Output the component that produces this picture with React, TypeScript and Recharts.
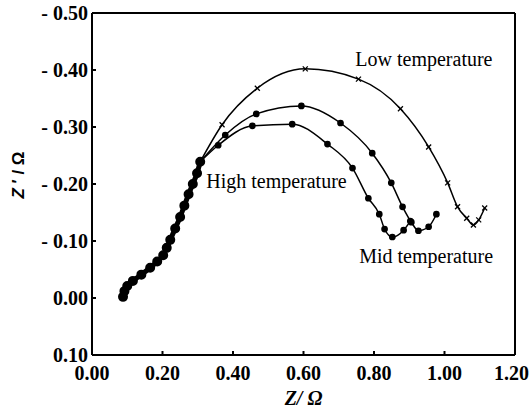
import { LineChart, Line, XAxis, YAxis, ReferenceLine, ReferenceDot } from "recharts";

// Z (Ω) / -Z'' (Ω)
const commonX = [0.088, 0.092, 0.1, 0.116, 0.14, 0.165, 0.185, 0.202, 0.212, 0.222, 0.236, 0.25, 0.262, 0.274, 0.286, 0.298, 0.307];
const commonY = [0.002, 0.012, 0.021, 0.03, 0.041, 0.053, 0.064, 0.075, 0.088, 0.102, 0.122, 0.142, 0.162, 0.182, 0.2, 0.219, 0.239];

const lowX = [0.307, 0.369, 0.469, 0.605, 0.756, 0.875, 0.955, 1.009, 1.037, 1.063, 1.082, 1.097, 1.114];
const lowY = [0.239, 0.304, 0.368, 0.402, 0.384, 0.332, 0.265, 0.202, 0.16, 0.14, 0.128, 0.137, 0.158];

const midX = [0.307, 0.378, 0.466, 0.594, 0.705, 0.795, 0.849, 0.881, 0.906, 0.926, 0.955, 0.977];
const midY = [0.239, 0.286, 0.323, 0.337, 0.307, 0.254, 0.202, 0.16, 0.133, 0.118, 0.125, 0.147];

const highX = [0.307, 0.358, 0.455, 0.568, 0.668, 0.739, 0.784, 0.815, 0.83, 0.852, 0.884, 0.903];
const highY = [0.239, 0.268, 0.302, 0.305, 0.27, 0.228, 0.175, 0.147, 0.121, 0.107, 0.119, 0.135];

const xTicks = [0, 0.2, 0.4, 0.6, 0.8, 1.0, 1.2];
const yTicks = [-0.1, 0, 0.1, 0.2, 0.3, 0.4, 0.5];

const toPts = (xs: number[], ys: number[]) => xs.map((x, i) => ({ x, y: ys[i] }));

const FONT = "'Liberation Serif', 'Times New Roman', serif";

const fmtY = (v: number) => (v > 0.001 ? `- ${v.toFixed(2)}` : Math.abs(v).toFixed(2));

const Cross = (props: any) => {
  const { cx, cy } = props;
  if (cx == null || cy == null) return null;
  const s = 2.5;
  return (
    <g stroke="#000" strokeWidth={1.3}>
      <line x1={cx - s} y1={cy - s} x2={cx + s} y2={cy + s} />
      <line x1={cx - s} y1={cy + s} x2={cx + s} y2={cy - s} />
    </g>
  );
};

const tag = (text: string) => (p: any) => {
  const vb = p.viewBox || {};
  return (
    <text x={vb.x} y={vb.y} fontFamily={FONT} fontSize={20} fill="#000">
      {text}
    </text>
  );
};

export default function App() {
  return (
    <div style={{ position: "absolute", left: 0, top: 0, background: "#fff" }}>
      <LineChart width={529} height={409} margin={{ top: 13, right: 14, bottom: 0, left: 0 }}>
        <XAxis
          type="number"
          dataKey="x"
          domain={[0, 1.2]}
          ticks={xTicks}
          allowDataOverflow
          height={54}
          tickFormatter={(v: number) => v.toFixed(2)}
          stroke="#000"
          strokeWidth={2}
          tickSize={-4}
          tickMargin={15}
          tick={{ fill: "#000", fontFamily: FONT, fontSize: 20, fontWeight: "bold" }}
          label={{
            value: "Z/ Ω",
            position: "insideBottom",
            offset: 4,
            fill: "#000",
            fontFamily: FONT,
            fontSize: 20,
            fontWeight: "bold",
            fontStyle: "italic",
          }}
        />
        <YAxis
          type="number"
          dataKey="y"
          domain={[-0.1, 0.5]}
          ticks={yTicks}
          allowDataOverflow
          width={92}
          tickFormatter={fmtY}
          stroke="#000"
          strokeWidth={2}
          tickSize={-4}
          tickMargin={8}
          tick={{ fill: "#000", fontFamily: FONT, fontSize: 20, fontWeight: "bold" }}
          label={{
            content: () => (
              <text
                x={24}
                y={175}
                transform="rotate(-90 24 175)"
                textAnchor="middle"
                fontFamily="'Liberation Sans', Arial, sans-serif"
                fontWeight="bold"
                fontSize={17}
                fill="#000"
              >
                <tspan fontStyle="italic">Z</tspan>{" ′  / Ω"}
              </text>
            ),
          }}
        />
        <ReferenceLine y={0.5} stroke="#000" strokeWidth={2} ifOverflow="extendDomain" />
        <ReferenceLine x={1.2} stroke="#000" strokeWidth={2} ifOverflow="extendDomain" />

        <Line
          data={toPts(commonX, commonY)}
          dataKey="y"
          type="monotone"
          stroke="#000"
          strokeWidth={5}
          strokeLinecap="round"
          dot={{ r: 2.5, fill: "#000", stroke: "#000" }}
          isAnimationActive={false}
        />
        <Line
          data={toPts(lowX, lowY)}
          dataKey="y"
          type="monotone"
          stroke="#000"
          strokeWidth={1.5}
          dot={<Cross />}
          isAnimationActive={false}
        />
        <Line
          data={toPts(midX, midY)}
          dataKey="y"
          type="monotone"
          stroke="#000"
          strokeWidth={1.5}
          dot={{ r: 2.6, fill: "#000", stroke: "#000" }}
          isAnimationActive={false}
        />
        <Line
          data={toPts(highX, highY)}
          dataKey="y"
          type="monotone"
          stroke="#000"
          strokeWidth={1.5}
          dot={{ r: 2.6, fill: "#000", stroke: "#000" }}
          isAnimationActive={false}
        />

        <ReferenceDot x={0.747} y={0.407} r={0} fill="none" stroke="none" label={{ content: tag("Low temperature") }} />
        <ReferenceDot x={0.324} y={0.193} r={0} fill="none" stroke="none" label={{ content: tag("High temperature") }} />
        <ReferenceDot x={0.758} y={0.061} r={0} fill="none" stroke="none" label={{ content: tag("Mid temperature") }} />
      </LineChart>
    </div>
  );
}
